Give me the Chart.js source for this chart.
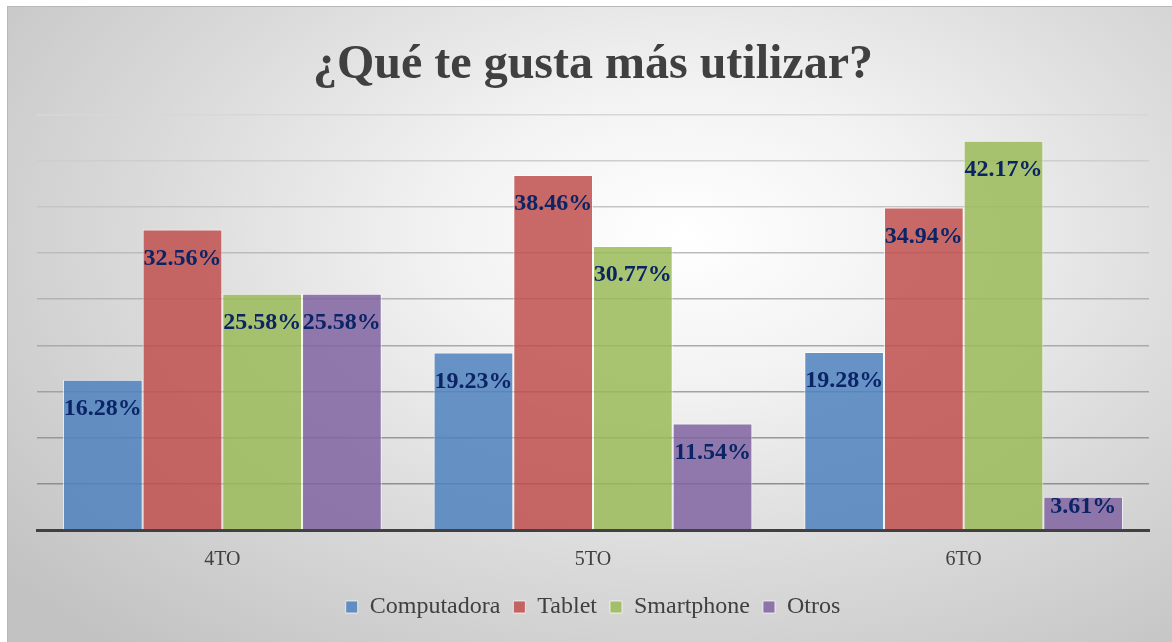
<!DOCTYPE html>
<html>
<head>
<meta charset="utf-8">
<script src="https://cdn.jsdelivr.net/npm/chart.js@4"></script>
<style>
  html, body { margin: 0; padding: 0; background: #fff; }
  #frame {
    position: absolute; left: 7px; top: 6px; width: 1165px; height: 636px;
    border-top: 1px solid #b8b8b8; border-left: 1px solid #b8b8b8;
    box-sizing: border-box;
    background: radial-gradient(ellipse 75% 85% at 58% 36%, #ffffff 0%, #f2f2f2 28%, #dadada 62%, #c2c2c2 100%);
  }
  #chart { display: block; }
</style>
</head>
<body>
<div id="frame"><canvas id="chart" width="1164" height="635"></canvas></div>
<script>
// datos
var grados = ['4TO', '5TO', '6TO'];
var computadora = [16.28, 19.23, 19.28];
var tablet = [32.56, 38.46, 34.94];
var smartphone = [25.58, 30.77, 42.17];
var otros = [25.58, 11.54, 3.61];

var serif = "'Liberation Serif', 'Times New Roman', serif";

// etiquetas de datos dentro de la barra
var etiquetas = {
    id: 'etiquetas',
    afterDatasetsDraw: function(chart) {
        var ctx = chart.ctx;
        ctx.save();
        ctx.font = 'bold 24px ' + serif;
        ctx.fillStyle = '#0b2466';
        ctx.textAlign = 'center';
        ctx.textBaseline = 'middle';
        chart.data.datasets.forEach(function(ds, i) {
            chart.getDatasetMeta(i).data.forEach(function(bar, j) {
                var y = Math.min(bar.y + 29, bar.base - 22);
                ctx.fillText(ds.data[j].toFixed(2) + '%', bar.x, y);
            });
        });
        ctx.restore();
    }
};

var ctx = document.getElementById('chart').getContext('2d');
var chart = new Chart(ctx, {
    type: 'bar',
    data: {
        labels: grados,
        datasets: [
            { label: 'Computadora', data: computadora, backgroundColor: 'rgba(79,129,189,0.85)' },
            { label: 'Tablet', data: tablet, backgroundColor: 'rgba(192,80,77,0.85)' },
            { label: 'Smartphone', data: smartphone, backgroundColor: 'rgba(155,187,89,0.85)' },
            { label: 'Otros', data: otros, backgroundColor: 'rgba(128,100,162,0.85)' }
        ]
    },
    options: {
        responsive: false,
        animation: false,
        datasets: {
            bar: {
                borderColor: 'rgba(255,255,255,0.7)',
                borderWidth: 1,
                categoryPercentage: 0.86,
                barPercentage: 1
            }
        },
        layout: { padding: { left: 29, right: 23, top: 8, bottom: 13 } },
        plugins: {
            title: {
                display: true,
                text: '¿Qué te gusta más utilizar?',
                color: '#404040',
                font: { family: serif, size: 48, weight: 'bold' },
                padding: { top: 22, bottom: 20 }
            },
            legend: {
                position: 'bottom',
                labels: {
                    color: '#404040',
                    font: { family: serif, size: 24 },
                    boxWidth: 12,
                    boxHeight: 12,
                    padding: 13
                }
            },
            tooltip: { enabled: false }
        },
        scales: {
            x: {
                grid: { display: false },
                border: { color: '#404040', width: 3 },
                ticks: { color: '#404040', font: { family: serif, size: 20 }, padding: 10 }
            },
            y: {
                min: 0,
                max: 45,
                ticks: { display: false, stepSize: 5 },
                border: { display: false },
                grid: {
                    drawTicks: false,
                    lineWidth: 1.5,
                    color: function(c) {
                        var g = 215 - (9 - (c.index || 0)) * 9;
                        return 'rgb(' + g + ',' + g + ',' + g + ')';
                    }
                }
            }
        }
    },
    plugins: [etiquetas]
});
</script>
</body>
</html>
